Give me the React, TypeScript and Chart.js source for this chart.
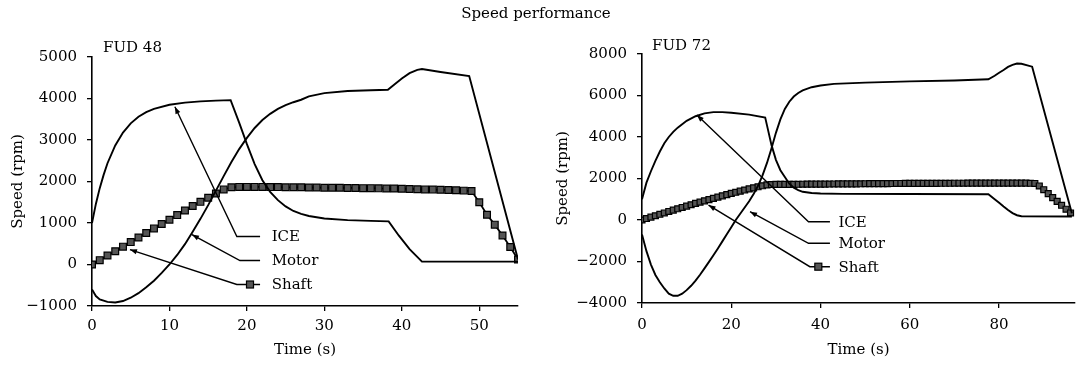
import React, { useEffect, useRef } from "react";
import { Chart, registerables } from "chart.js";

Chart.register(...registerables);
Chart.defaults.font.family = "'DejaVu Serif', serif";
Chart.defaults.color = "#000";

const MAIN_TITLE = "Speed performance";
const SERIES_NAMES = ["ICE", "Motor", "Shaft"];

// ---------- FUD 48 ----------
const ice48T = [0, 0.5, 1, 1.5, 2, 3, 4, 5, 6, 7, 8, 10, 12, 14, 16, 17.9, 19, 20, 21, 22, 23, 24, 25, 26, 27, 28, 30, 33, 36, 38.3, 39.6, 41, 42.6, 55];
const ice48V = [1000, 1460, 1840, 2160, 2440, 2870, 3180, 3400, 3560, 3670, 3750, 3850, 3900, 3930, 3950, 3960, 3420, 2900, 2420, 2030, 1750, 1550, 1400, 1290, 1220, 1170, 1110, 1070, 1050, 1040, 700, 370, 70, 70];

const motor48T = [0, 0.5, 1, 2, 3, 4, 5, 6, 7, 8, 9, 10, 11, 12, 13, 14, 15, 16, 17, 18, 19, 20, 21, 22, 23, 24, 25, 26, 27, 28, 30, 33, 36, 38.2, 39, 40, 41, 42, 42.6, 45, 48.7, 55];
const motor48V = [-600, -760, -840, -900, -915, -880, -800, -690, -550, -390, -200, 0, 230, 490, 790, 1100, 1430, 1780, 2130, 2470, 2780, 3050, 3290, 3480, 3630, 3750, 3840, 3910, 3970, 4050, 4130, 4180, 4200, 4210, 4330, 4480, 4610, 4690, 4710, 4640, 4540, 120];

const shaft48T = [0, 1, 2, 3, 4, 5, 6, 7, 8, 9, 10, 11, 12, 13, 14, 15, 16, 17, 18, 19, 20, 21, 22, 23, 24, 25, 26, 27, 28, 29, 30, 31, 32, 33, 34, 35, 36, 37, 38, 39, 40, 41, 42, 43, 44, 45, 46, 47, 48, 49, 50, 51, 52, 53, 54, 55];
const shaft48V = [0, 105, 215, 320, 430, 540, 650, 760, 870, 975, 1080, 1190, 1300, 1410, 1510, 1610, 1710, 1810, 1860, 1870, 1870, 1870, 1870, 1865, 1865, 1860, 1860, 1860, 1855, 1855, 1850, 1850, 1850, 1845, 1845, 1840, 1840, 1835, 1830, 1830, 1825, 1820, 1815, 1810, 1805, 1800, 1795, 1790, 1780, 1770, 1500, 1200, 960, 700, 420, 120];

// ---------- FUD 72 ----------
const ice72T = [0, 1, 2, 3, 4, 5, 6, 7, 8, 10, 12, 14, 16, 18, 20, 24, 27.6, 28, 29, 30, 31, 32, 33, 34, 35, 36, 38, 40, 45, 60, 77.6, 79, 80, 81, 82, 83, 84, 85, 96.3];
const ice72V = [1000, 1800, 2350, 2850, 3300, 3700, 4000, 4250, 4450, 4780, 5000, 5140, 5200, 5200, 5170, 5080, 4940, 4560, 3620, 2900, 2400, 2070, 1750, 1560, 1440, 1360, 1300, 1280, 1260, 1250, 1240, 1000, 830, 650, 480, 330, 230, 180, 170];

const motor72T = [0, 1, 2, 3, 4, 5, 6, 7, 8, 9, 10, 11, 12, 13, 14, 15, 16, 17, 18, 19, 20, 21, 22, 23, 24, 25, 26, 27, 28, 29, 30, 31, 32, 33, 34, 35, 36, 38, 40, 43, 50, 60, 70, 77.6, 79, 80, 81, 82, 83, 84, 85, 87.4, 96.3];
const motor72V = [-700, -1500, -2150, -2650, -3000, -3300, -3550, -3650, -3650, -3550, -3380, -3170, -2920, -2640, -2330, -2020, -1700, -1370, -1030, -690, -350, 0, 300, 600, 900, 1250, 1650, 2150, 2750, 3450, 4200, 4850, 5350, 5700, 5950, 6120, 6250, 6400, 6480, 6560, 6620, 6680, 6720, 6780, 6950, 7100, 7230, 7380, 7480, 7540, 7530, 7390, 320];

const shaft72T = [0, 1, 2, 3, 4, 5, 6, 7, 8, 9, 10, 11, 12, 13, 14, 15, 16, 17, 18, 19, 20, 21, 22, 23, 24, 25, 26, 27, 28, 29, 30, 31, 32, 33, 34, 35, 36, 37, 38, 39, 40, 41, 42, 43, 44, 45, 46, 47, 48, 49, 50, 51, 52, 53, 54, 55, 56, 57, 58, 59, 60, 61, 62, 63, 64, 65, 66, 67, 68, 69, 70, 71, 72, 73, 74, 75, 76, 77, 78, 79, 80, 81, 82, 83, 84, 85, 86, 87, 88, 89, 90, 91, 92, 93, 94, 95, 96];
const shaft72V = [0, 70, 140, 205, 275, 340, 410, 475, 540, 605, 670, 735, 800, 860, 925, 985, 1045, 1105, 1165, 1220, 1280, 1335, 1390, 1445, 1500, 1550, 1600, 1650, 1690, 1710, 1715, 1720, 1720, 1720, 1720, 1722, 1724, 1726, 1728, 1730, 1730, 1732, 1734, 1736, 1738, 1740, 1740, 1742, 1744, 1746, 1748, 1750, 1750, 1752, 1754, 1756, 1758, 1760, 1760, 1762, 1762, 1764, 1764, 1766, 1766, 1768, 1768, 1770, 1770, 1770, 1772, 1772, 1772, 1774, 1774, 1774, 1776, 1776, 1776, 1778, 1778, 1778, 1778, 1780, 1780, 1780, 1780, 1770, 1760, 1640, 1460, 1270, 1080, 900, 710, 520, 340];

// ---------- callout labels (data units) ----------
const callouts48 = [
  { label: "ICE", tipT: 10.7, tipV: 3800, elbowT: 18.7, labelV: 674, marker: false },
  { label: "Motor", tipT: 12.9, tipV: 720, elbowT: 19.1, labelV: 96, marker: false },
  { label: "Shaft", tipT: 4.9, tipV: 360, elbowT: 18.7, labelV: -482, marker: true },
];
const callouts72 = [
  { label: "ICE", tipT: 12.3, tipV: 5060, elbowT: 37.3, labelV: -82, marker: false },
  { label: "Motor", tipT: 24.2, tipV: 400, elbowT: 37.3, labelV: -1123, marker: false },
  { label: "Shaft", tipT: 14.9, tipV: 720, elbowT: 37.6, labelV: -2250, marker: true },
];

const FONT = "15px 'DejaVu Serif', serif";

function pts(ts: number[], vs: number[]) {
  return ts.map((t, i) => ({ x: t, y: vs[i] }));
}

function calloutPlugin(callouts: any[], lineEndT: number, markerT: number, textT: number, title: string, titleDx: number, titleDy: number) {
  return {
    id: "callouts",
    afterDatasetsDraw(chart: any) {
      const { ctx, scales } = chart;
      const x = scales.x, y = scales.y;
      ctx.save();
      ctx.strokeStyle = "#000";
      ctx.fillStyle = "#000";
      ctx.lineWidth = 1.4;
      for (const c of callouts) {
        const tx = x.getPixelForValue(c.tipT), ty = y.getPixelForValue(c.tipV);
        const ex = x.getPixelForValue(c.elbowT), ly = y.getPixelForValue(c.labelV);
        const lx = x.getPixelForValue(lineEndT);
        ctx.beginPath();
        ctx.moveTo(lx, ly);
        ctx.lineTo(ex, ly);
        ctx.lineTo(tx, ty);
        ctx.stroke();
        const ang = Math.atan2(ty - ly, tx - ex);
        const L = 7, W = 2.6;
        ctx.beginPath();
        ctx.moveTo(tx, ty);
        ctx.lineTo(tx - L * Math.cos(ang) + W * Math.sin(ang), ty - L * Math.sin(ang) - W * Math.cos(ang));
        ctx.lineTo(tx - L * Math.cos(ang) - W * Math.sin(ang), ty - L * Math.sin(ang) + W * Math.cos(ang));
        ctx.closePath();
        ctx.fill();
        if (c.marker) {
          const mx = x.getPixelForValue(markerT);
          ctx.fillStyle = "#555";
          ctx.fillRect(mx - 3.5, ly - 3.5, 7, 7);
          ctx.lineWidth = 1.2;
          ctx.strokeRect(mx - 3.5, ly - 3.5, 7, 7);
          ctx.fillStyle = "#000";
          ctx.lineWidth = 1.4;
        }
        ctx.font = FONT;
        ctx.textAlign = "left";
        ctx.textBaseline = "middle";
        ctx.fillText(c.label, x.getPixelForValue(textT), ly + 1);
      }
      ctx.font = FONT;
      ctx.textAlign = "left";
      ctx.textBaseline = "middle";
      ctx.fillText(title, chart.chartArea.left + titleDx, chart.chartArea.top - titleDy);
      ctx.restore();
    },
  };
}

function makeConfig(p: any) {
  const lineDs = (label: string, data: any[]) => ({
    label,
    data,
    borderColor: "#000",
    borderWidth: 1.9,
    pointRadius: 0,
    fill: false,
    tension: 0,
  });
  return {
    type: "line",
    data: {
      datasets: [
        lineDs(SERIES_NAMES[0], p.ice),
        lineDs(SERIES_NAMES[1], p.motor),
        {
          label: SERIES_NAMES[2],
          data: p.shaft,
          borderColor: "#000",
          borderWidth: 1.8,
          pointStyle: "rect",
          pointRadius: p.markerR,
          pointBackgroundColor: "#555",
          pointBorderColor: "#000",
          pointBorderWidth: 1.2,
          fill: false,
          tension: 0,
        },
      ],
    },
    options: {
      animation: false,
      responsive: false,
      maintainAspectRatio: false,
      layout: { padding: { top: p.padTop, right: p.padRight, left: 0, bottom: 0 } },
      plugins: { legend: { display: false }, title: { display: false }, tooltip: { enabled: false } },
      scales: {
        x: {
          type: "linear",
          min: 0,
          max: p.xMax,
          afterFit: (s: any) => { s.height = p.xH; },
          ticks: { stepSize: p.xStep, includeBounds: false, padding: p.xPad, color: "#000", font: { size: 15 }, maxRotation: 0, callback: (v: any) => String(v) },
          grid: { drawOnChartArea: false, drawTicks: true, tickLength: 5, color: "#000", lineWidth: 1.3 },
          border: { color: "#000", width: 1.6 },
          title: { display: true, text: "Time (s)", color: "#000", font: { size: 15 }, padding: { top: 0, bottom: 15 } },
        },
        y: {
          type: "linear",
          min: p.yMin,
          max: p.yMax,
          afterFit: (s: any) => { s.width = p.yW; },
          ticks: { stepSize: p.yStep, padding: 10, color: "#000", font: { size: 15 }, callback: (v: any) => String(v).replace("-", "\u2212") },
          grid: { drawOnChartArea: false, drawTicks: true, tickLength: 5, color: "#000", lineWidth: 1.3 },
          border: { color: "#000", width: 1.6 },
          title: { display: true, text: "Speed (rpm)", color: "#000", font: { size: 15 }, padding: { top: p.yTitlePad, bottom: 0 } },
        },
      },
    },
    plugins: [calloutPlugin(p.callouts, p.lineEndT, p.markerT, p.textT, p.title, p.titleDx, p.titleDy)],
  };
}

const leftParams = {
  ice: pts(ice48T, ice48V),
  motor: pts(motor48T, motor48V),
  shaft: pts(shaft48T, shaft48V),
  markerR: 4.8,
  padTop: 57, padRight: 22, xH: 68, yW: 92, xPad: 6, yTitlePad: 9,
  xMax: 55, xStep: 10, yMin: -1000, yMax: 5000, yStep: 1000,
  callouts: callouts48, lineEndT: 21.7, markerT: 20.4, textT: 23.2,
  title: "FUD 48", titleDx: 11, titleDy: 9,
};

const rightParams = {
  ice: pts(ice72T, ice72V),
  motor: pts(motor72T, motor72V),
  shaft: pts(shaft72T, shaft72V),
  markerR: 4.2,
  padTop: 54, padRight: 6, xH: 71, yW: 102, xPad: 8, yTitlePad: 14,
  xMax: 97, xStep: 20, yMin: -4000, yMax: 8000, yStep: 2000,
  callouts: callouts72, lineEndT: 42.1, markerT: 39.5, textT: 44.0,
  title: "FUD 72", titleDx: 10, titleDy: 8,
};

function ChartCanvas({ params, left, width }: { params: any; left: number; width: number }) {
  const ref = useRef<HTMLCanvasElement | null>(null);
  useEffect(() => {
    if (!ref.current) return;
    const chart = new Chart(ref.current, makeConfig(params) as any);
    return () => chart.destroy();
  }, []);
  return (
    <canvas
      ref={ref}
      width={width}
      height={374}
      style={{ position: "absolute", left, top: 0, width, height: 374, display: "block" }}
    />
  );
}

export default function App() {
  return (
    <div style={{ position: "absolute", left: 0, top: 0, width: 1081, height: 374, background: "#fff", overflow: "hidden" }}>
      <ChartCanvas params={leftParams} left={0} width={540} />
      <ChartCanvas params={rightParams} left={540} width={541} />
      <div
        style={{
          position: "absolute",
          left: 0,
          top: 4,
          width: 1072,
          textAlign: "center",
          font: FONT,
          color: "#000",
        }}
      >
        {MAIN_TITLE}
      </div>
    </div>
  );
}
